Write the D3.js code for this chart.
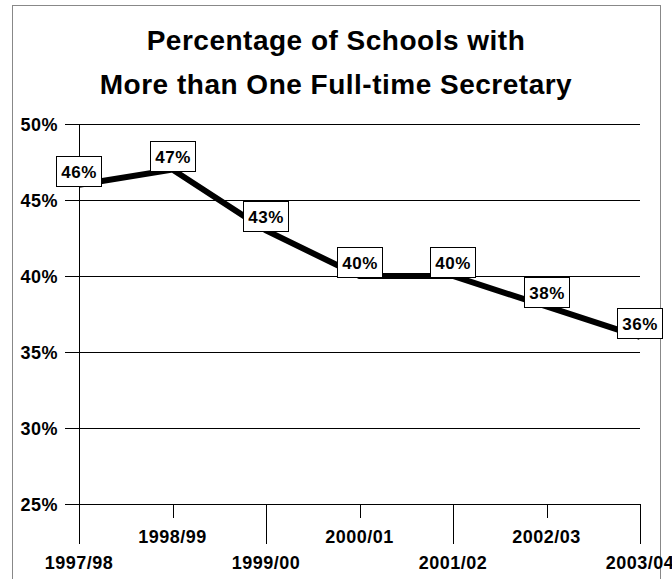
<!DOCTYPE html>
<html><head><meta charset="utf-8">
<script src="https://cdn.jsdelivr.net/npm/d3@7"></script>
<style>body{margin:0;background:#fff}svg{display:block}text{font-family:Arial,"Liberation Sans",sans-serif;font-weight:bold;letter-spacing:0.5px}</style>
</head><body>
<script>
const categories = ["1997/98","1998/99","1999/00","2000/01","2001/02","2002/03","2003/04"];
const values = [46,47,43,40,40,38,36];
const valueLabels = ["46%","47%","43%","40%","40%","38%","36%"];
const yTicks = [25,30,35,40,45,50];
const titleLines = ["Percentage of Schools with","More than One Full-time Secretary"];

const W=672,H=579;
const svg=d3.select("body").append("svg").attr("width",W).attr("height",H);
svg.append("rect").attr("x",12.5).attr("y",5.5).attr("width",648).attr("height",600).attr("fill","#fff").attr("stroke","#888").attr("stroke-width",1);

const x=d3.scalePoint().domain(categories).range([79,640]);
const y=d3.scaleLinear().domain([25,50]).range([504,124]);

svg.selectAll(".title").data(titleLines).enter().append("text")
 .attr("x",336).attr("y",(d,i)=>50+i*44).attr("text-anchor","middle")
 .attr("font-size",28).text(d=>d);

// gridlines
svg.append("g").selectAll("line").data(yTicks).enter().append("line")
 .attr("x1",65).attr("x2",640).attr("y1",d=>Math.round(y(d))+0.5).attr("y2",d=>Math.round(y(d))+0.5)
 .attr("stroke","#000").attr("stroke-width",1);
svg.append("g").selectAll("text").data(yTicks).enter().append("text")
 .attr("x",58).attr("y",d=>y(d)+6.5).attr("text-anchor","end").attr("font-size",18).text(d=>d+"%");
// y axis
svg.append("line").attr("x1",79.5).attr("x2",79.5).attr("y1",124).attr("y2",544).attr("stroke","#000");
// x ticks
svg.append("g").selectAll("line").data(categories.slice(1)).enter().append("line")
 .attr("x1",d=>Math.round(x(d))+0.5).attr("x2",d=>Math.round(x(d))+0.5)
 .attr("y1",504).attr("y2",d=>categories.indexOf(d)%2===0?544:518)
 .attr("stroke","#000");
svg.append("g").selectAll("text").data(categories).enter().append("text")
 .attr("x",d=>x(d)).attr("y",(d,i)=>i%2===0?569:543).attr("text-anchor","middle")
 .attr("font-size",18).text(d=>d);

// line
const data=categories.map((c,i)=>({c,v:values[i],l:valueLabels[i]}));
svg.append("path").datum(data).attr("fill","none").attr("stroke","#000").attr("stroke-width",6)
 .attr("stroke-linejoin","miter")
 .attr("d",d3.line().x(d=>x(d.c)).y(d=>y(d.v)));

const lab=svg.append("g").selectAll("g").data(data).enter().append("g")
 .attr("transform",d=>`translate(${Math.round(x(d.c))},${Math.round(y(d.v))})`);
lab.append("rect").attr("x",-22.5).attr("y",-28.5).attr("width",45).attr("height",30)
 .attr("fill","#fff").attr("stroke","#000").attr("stroke-width",1);
lab.append("text").attr("x",0).attr("y",-7).attr("text-anchor","middle").attr("font-size",17).text(d=>d.l);
</script>
</body></html>
